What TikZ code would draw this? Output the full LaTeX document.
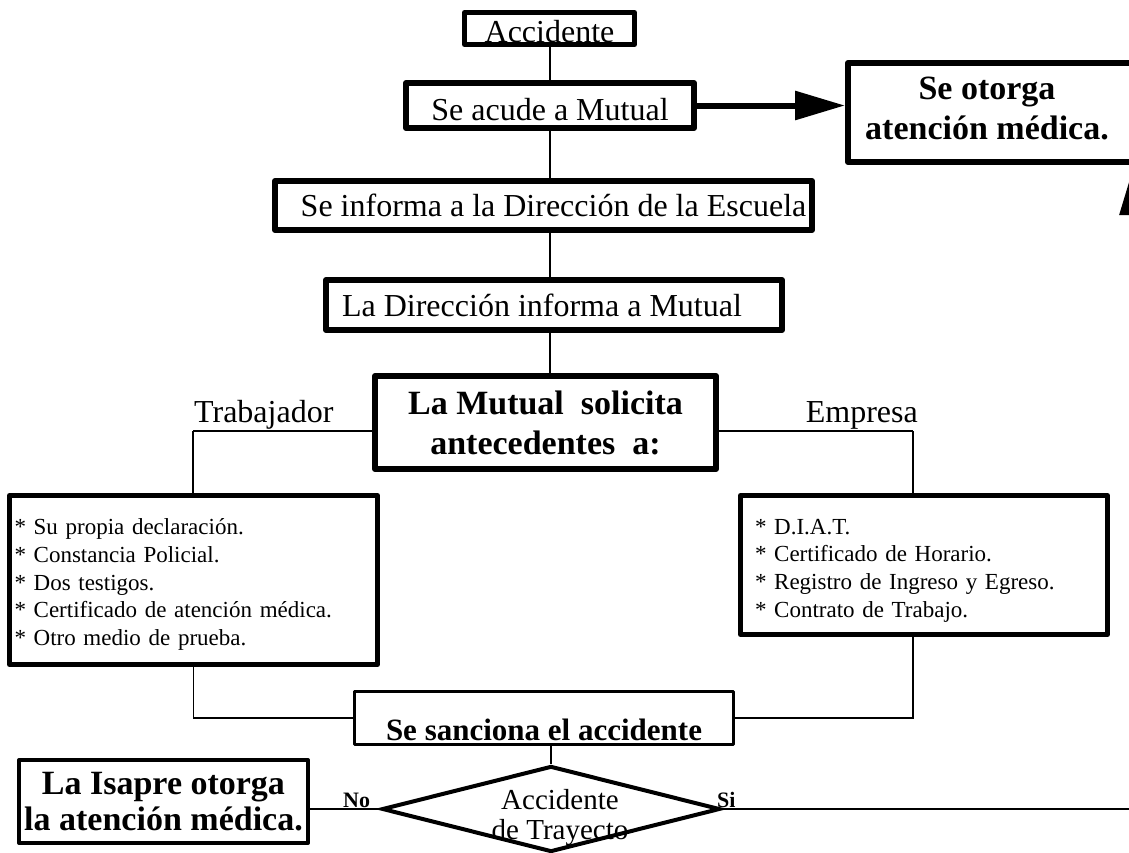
\documentclass[tikz,border=0pt]{standalone}
\usepackage{fontspec}
\setmainfont{Liberation Serif}
\usepackage{tikz}
\usetikzlibrary{positioning,shapes.geometric,arrows.meta}
\tikzstyle{arrow} = [line width=6pt, -{Triangle[length=50pt,width=28pt]}]
\tikzstyle{link} = [line width=2.5pt]
\tikzstyle{thinlink} = [line width=1.5pt]

\begin{document}
\begin{tikzpicture}[
		x=1pt, y=-1pt,
		paso/.style={
				rectangle,
				draw=black,
				line join=round,
				line width=6pt,
				inner sep=0pt,
				font=\fontsize{32pt}{38pt}\selectfont,
			},
		grueso/.style={
				paso,
				align=center,
				font=\fontsize{34pt}{40pt}\selectfont\bfseries,
			},
		lista/.style={
				paso,
				line width=5pt,
				align=left,
				font=\fontsize{23pt}{27.8pt}\selectfont,
			},
		rama/.style={
				inner sep=0pt,
				font=\fontsize{32pt}{38pt}\selectfont,
			},
		marca/.style={
				inner sep=0pt,
				anchor=base west,
				font=\fontsize{22pt}{26pt}\selectfont\bfseries,
			},
	]
		\useasboundingbox (0,0) rectangle (1129,852);
		\clip (0,0) rectangle (1129,852);

		% Accidente
		\node[paso, line width=5pt, minimum width=170pt, minimum height=32pt,
			text height=27pt, text depth=0pt] (accidente) at (549.5,28.5) {Accidente};

		% Se acude a Mutual
		\node[paso, minimum width=288pt, minimum height=45pt,
			text height=30pt, text depth=0pt] (mutual) at (550,105.5) {Se acude a Mutual};

		% Atencion medica
		\node[grueso, minimum width=294pt, minimum height=99pt] (otorga) at (995,112.5) {
			Se otorga\hspace*{16pt}\\
			atención médica.\hspace*{16pt}\rule[-8pt]{0pt}{0pt}
		};

		% Direccion de la Escuela
		\node[paso, minimum width=537pt, minimum height=49pt] (escuela) at (543.5,205.5) {\hspace*{20pt}Se informa a la Dirección de la Escuela};

		% Direccion informa
		\node[paso, minimum width=456pt, minimum height=50pt] (direccion) at (554,305) {La Dirección informa a Mutual\hspace*{24pt}};

		% Mutual solicita
		\node[grueso, minimum width=341pt, minimum height=93pt] (solicita) at (545.5,422.5) {
			La Mutual\ \ solicita\\
			antecedentes\ \ a:
		};

		\node[rama, anchor=base west] (trab) at (194,422) {Trabajador};
		\node[rama, anchor=base east] (emp) at (918,422) {Empresa};

		% Trabajador
		\node[lista, minimum width=368pt, minimum height=169pt, text width=358pt] (trablist) at (193.5,580) {
			\rule{0pt}{25pt}* Su propia declaración.\\
			{*} Constancia Policial.\\
			{*} Dos testigos.\\
			{*} Certificado de atención médica.\\
			{*} Otro medio de prueba.
		};

		% Empresa
		\node[lista, minimum width=367pt, minimum height=139pt, text width=338pt] (emplist) at (924,565) {
			\rule{0pt}{26.5pt}* D.I.A.T.\\
			{*} Certificado de Horario.\\
			{*} Registro de Ingreso y Egreso.\\
			{*} Contrato de Trabajo.
		};

		% Se sanciona
		\node[paso, line width=3pt, minimum width=379pt, minimum height=53pt,
			text height=44pt, text depth=0pt,
			font=\fontsize{31pt}{37pt}\selectfont\bfseries] (sanciona) at (544,718) {Se sanciona el accidente};

		% Accidente de trayecto
		\node[diamond, draw, line width=4pt, minimum width=338pt, minimum height=86pt,
			inner sep=0pt] (trayecto) at (551,809) {};
		\node[align=center, font=\fontsize{29pt}{30pt}\selectfont] (trayectotxt) at (560,818) {
			Accidente\\
			de Trayecto
		};

		% Isapre
		\node[grueso, line width=4pt, minimum width=289pt, minimum height=83pt,
			font=\fontsize{34pt}{36pt}\selectfont\bfseries] (isapre) at (163.5,801.5) {
			La Isapre otorga\\
			la atención médica.
		};

		\node[marca] (no) at (343,807) {No};
		\node[marca] (si) at (717,807) {Si};

		\coordinate (eje) at (550,0);
		\coordinate (izq) at (193,431);
		\coordinate (der) at (913,431);
		\coordinate (vuelta) at (1134,809);

		% Connections
		\draw[link] (accidente.south -| eje) -- (mutual.north -| eje);
		\draw[link] (mutual.south -| eje) -- (escuela.north -| eje);
		\draw[link] (escuela.south -| eje) -- (direccion.north -| eje);
		\draw[link] (direccion.south -| eje) -- (solicita.north -| eje);
		\draw[arrow] (mutual.east) -- (otorga.west |- mutual.east);
		\draw[link] (solicita.west |- izq) -- (izq);
		\draw[link] (solicita.east |- der) -- (der);
		\draw[thinlink] (izq) -- (izq |- trablist.north);
		\draw[thinlink] (der) -- (der |- emplist.north);
		\draw[thinlink] (trablist.south) -- (trablist.south |- sanciona.west) -- (sanciona.west);
		\draw[thinlink] (der |- emplist.south) -- (der |- sanciona.east) -- (sanciona.east);
		\draw[thinlink] (trayecto.north |- sanciona.south) -- (trayecto.north);
		\draw[thinlink] (isapre.east |- trayecto.west) -- (trayecto.west);
		\draw[thinlink] (trayecto.east) -- (vuelta);
		\draw[arrow] (vuelta) -- (vuelta |- otorga.south);
	\end{tikzpicture}
\end{document}
